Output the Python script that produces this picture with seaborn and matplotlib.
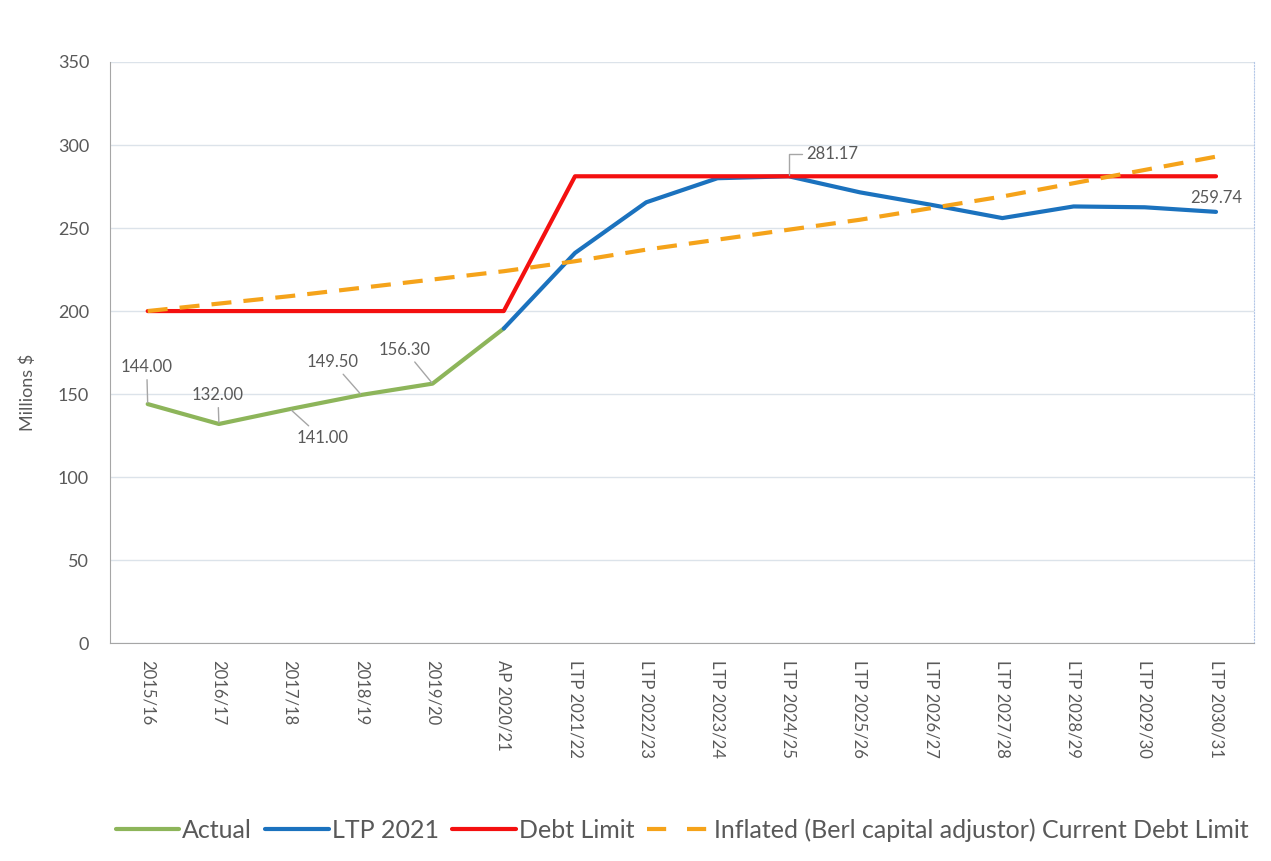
import matplotlib
matplotlib.use("Agg")
import matplotlib.pyplot as plt
import seaborn as sns
import pandas as pd
import numpy as np

sns.set_style("white")
plt.rcParams['font.family'] = ['Lato', 'DejaVu Sans']

years = ["2015/16", "2016/17", "2017/18", "2018/19", "2019/20", "AP 2020/21",
         "LTP 2021/22", "LTP 2022/23", "LTP 2023/24", "LTP 2024/25", "LTP 2025/26",
         "LTP 2026/27", "LTP 2027/28", "LTP 2028/29", "LTP 2029/30", "LTP 2030/31"]

actual = [144.00, 132.00, 141.00, 149.50, 156.30, 189.5]
ltp_2021 = [189.5, 235, 265.5, 280, 281.17, 271.5, 264, 256, 263, 262.5, 259.74]
debt_limit = [200, 200, 200, 200, 200, 200, 281.17, 281.17, 281.17, 281.17, 281.17,
              281.17, 281.17, 281.17, 281.17, 281.17]
inflated = [200, 204.5, 209, 214, 219, 224, 230, 237, 243, 249, 255, 262, 269, 277, 285, 293]

grey = "#595959"

fig, ax = plt.subplots(figsize=(12.71, 8.61), dpi=100)
fig.subplots_adjust(left=0.0865, right=0.987, bottom=0.253, top=0.928)

x_all = np.arange(len(years))
sns.lineplot(x=x_all[:len(actual)], y=actual, ax=ax, color="#8DB55A", lw=3, label="Actual")
sns.lineplot(x=x_all[5:5 + len(ltp_2021)], y=ltp_2021, ax=ax, color="#1B72BE", lw=3, label="LTP 2021")
sns.lineplot(x=x_all, y=debt_limit, ax=ax, color="#F41010", lw=3, label="Debt Limit")
sns.lineplot(x=x_all, y=inflated, ax=ax, color="#F5A31A", lw=3, label="Inflated (Berl capital adjustor) Current Debt Limit")
ax.lines[-1].set_dashes([4.8, 2.9])

ax.set_xlim(-0.53, 15.54)
ax.set_ylim(0, 350)
ax.set_yticks(range(0, 351, 50))
ax.set_xticks(x_all)
ax.set_xticklabels(years, rotation=270, va="top", ha="center")
ax.tick_params(axis="both", labelsize=13, colors=grey, length=0)
ax.tick_params(axis="x", labelsize=12, pad=12)
ax.tick_params(axis="y", pad=15)
ax.yaxis.grid(True, color="#DCE3EA", lw=1)
ax.set_ylabel("Millions $", fontsize=13, color=grey)
ax.yaxis.set_label_coords(-0.065, 0.432)

ax.spines["top"].set_visible(False)
ax.spines["left"].set_color("#A6A6A6")
ax.spines["bottom"].set_color("#A6A6A6")
ax.spines["right"].set_color("#B4C7E7")
ax.spines["right"].set_linestyle(":")

# data labels
labels = [
    (0, actual[0], "144.00", (-1, 37)),
    (1, actual[1], "132.00", (-1, 29)),
    (2, actual[2], "141.00", (32, -29)),
    (3, actual[3], "149.50", (-29, 33)),
    (4, actual[4], "156.30", (-28, 34)),
]
for xi, yi, txt, off in labels:
    ax.annotate(txt, (xi, yi), xytext=off, textcoords="offset pixels", ha="center", va="center",
                fontsize=12, color=grey,
                arrowprops=dict(arrowstyle="-", color="#A6A6A6", lw=1, shrinkA=1, shrinkB=1))

ax.annotate("281.17", (9, ltp_2021[4]), xytext=(44, 22), textcoords="offset pixels",
            ha="center", va="center", fontsize=12, color=grey,
            arrowprops=dict(arrowstyle="-", color="#A6A6A6", lw=1, shrinkA=1, shrinkB=1,
                            connectionstyle="angle,angleA=0,angleB=90,rad=0"))
ax.annotate("259.74", (15, ltp_2021[-1]), xytext=(0, 14), textcoords="offset pixels",
            ha="center", va="center", fontsize=12, color=grey)

handles, texts = ax.get_legend_handles_labels()
ax.get_legend().remove()
leg = fig.legend(handles, texts, loc="center", bbox_to_anchor=(0.5366, 0.036), ncol=4, frameon=False,
                 fontsize=18, handlelength=2.55, columnspacing=0.52, handletextpad=0.12)
for t in leg.get_texts():
    t.set_color(grey)
leg.legend_handles[3].set_dashes([4.6, 5.0])

fig.savefig("out.png", dpi=100)
